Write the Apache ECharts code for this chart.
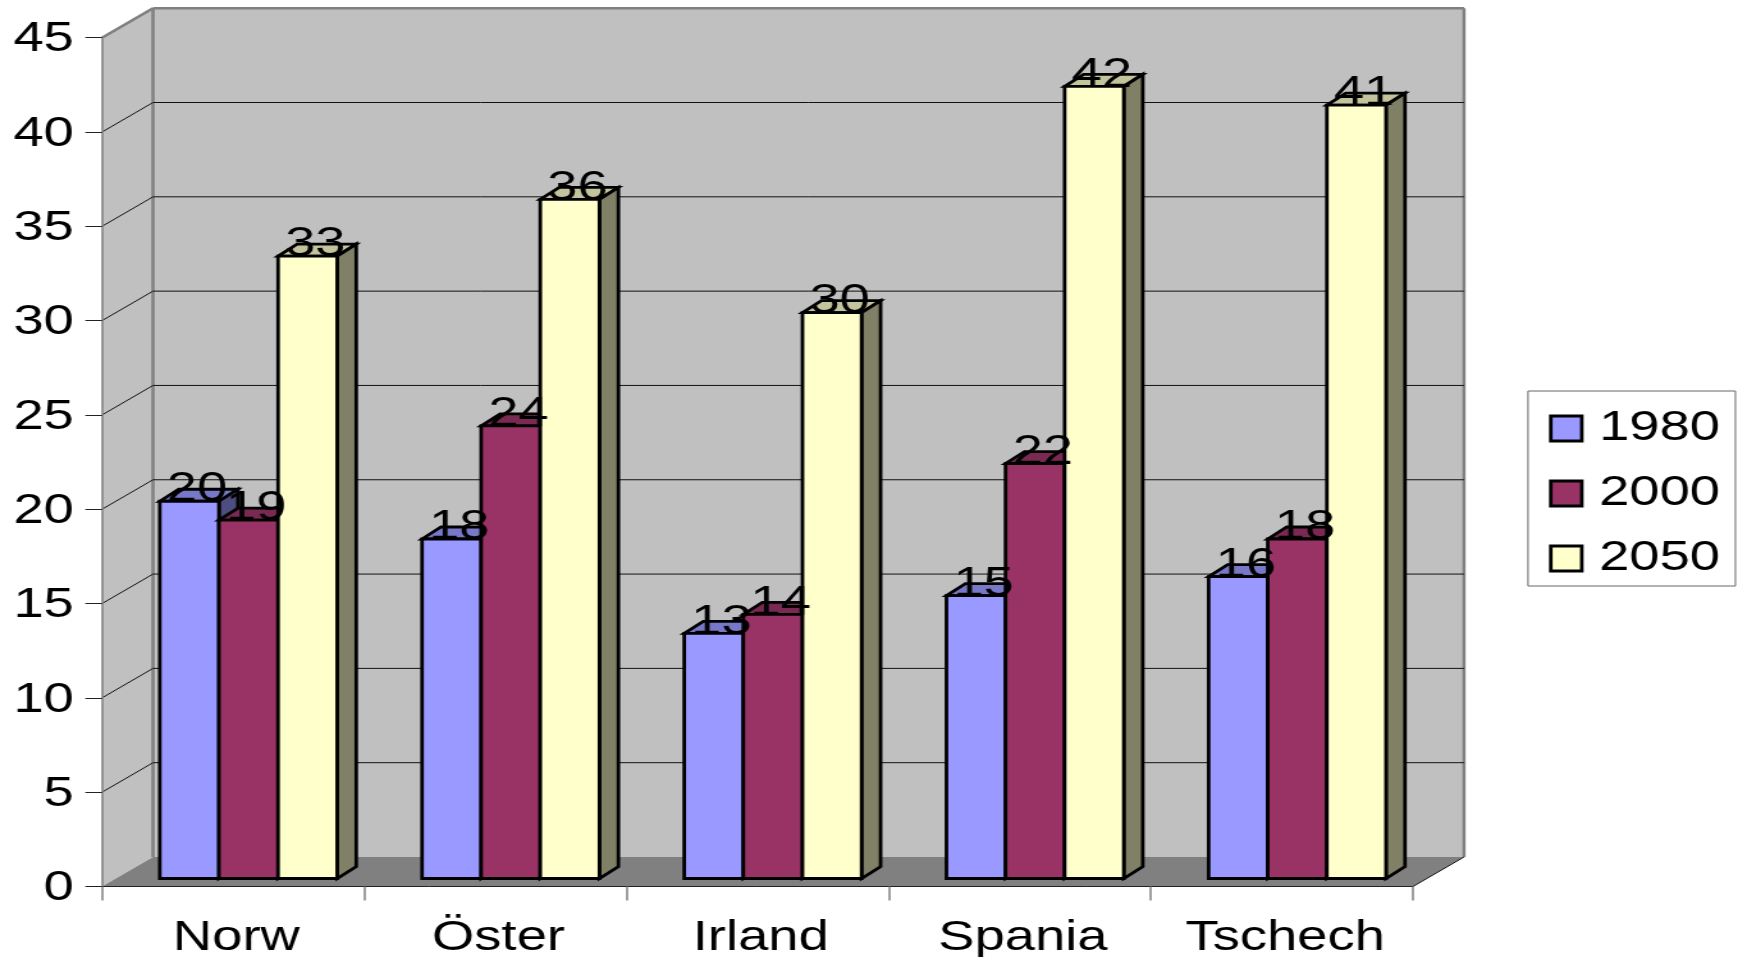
<!DOCTYPE html>
<html>
<head>
<meta charset="utf-8">
<style>
html,body{margin:0;padding:0;background:#fff;overflow:hidden;width:1738px;height:957px}
#chart{width:1358px;height:957px;transform-origin:0 0;transform:scaleX(1.27982)}
</style>
<script src="https://cdn.jsdelivr.net/npm/echarts@6/dist/echarts.min.js"></script>
</head>
<body>
<div id="chart"></div>
<script>
const categories = ['Norw', 'Öster', 'Irland', 'Spania', 'Tschech'];
const series1980 = [20, 18, 13, 15, 16];
const series2000 = [19, 24, 14, 22, 18];
const series2050 = [33, 36, 30, 42, 41];
const gridValues = [5, 10, 15, 20, 25, 30, 35, 40];

const SX = 1358 / 1738;           // horizontal px -> chart px
const FONT = '"Liberation Sans", Arial, sans-serif';
const wallDX = 51 * SX, wallDY = 29.5;
const barShiftX = 0, barShiftY = 8;
const depthDX = 19 * SX, depthDY = 12;
const groupStart = 0.2205, barFrac = 0.2255;

function wallItem(params, api) {
  const cs = params.coordSys;
  const L = cs.x, R = cs.x + cs.width;
  const y0 = api.coord([0, 0])[1], yT = api.coord([0, 45])[1];
  const poly = (pts, fill, stroke, lw) => ({
    type: 'polygon', shape: { points: pts },
    style: { fill: fill, stroke: stroke || null, lineWidth: lw || 0 }
  });
  const line = (a, b, c, lw) => ({
    type: 'line', shape: { x1: a[0], y1: a[1], x2: b[0], y2: b[1] },
    style: { stroke: c, lineWidth: lw, fill: null }
  });
  return {
    type: 'group', children: [
      poly([[L + wallDX, yT - wallDY], [R + wallDX, yT - wallDY], [R + wallDX, y0 - wallDY], [L + wallDX, y0 - wallDY]], '#C0C0C0'),
      poly([[L, y0], [L, yT], [L + wallDX, yT - wallDY], [L + wallDX, y0 - wallDY]], '#C0C0C0'),
      poly([[L, y0], [R, y0], [R + wallDX, y0 - wallDY], [L + wallDX, y0 - wallDY]], '#808080'),
      line([L + wallDX, yT - wallDY], [R + wallDX, yT - wallDY], '#808080', 2.5),
      line([L + wallDX, yT - wallDY], [L + wallDX, y0 - wallDY], '#808080', 2.5),
      line([R + wallDX, yT - wallDY], [R + wallDX, y0 - wallDY], '#808080', 2.5),
      line([L, yT], [L + wallDX, yT - wallDY], '#808080', 2.5),
      line([R, y0], [R + wallDX, y0 - wallDY], '#111', 1)
    ]
  };
}

function gridItem(params, api) {
  const cs = params.coordSys;
  const L = cs.x, R = cs.x + cs.width;
  const y = api.coord([0, api.value(1)])[1];
  const s = { stroke: '#111', lineWidth: 1, fill: null };
  return {
    type: 'group', children: [
      { type: 'line', shape: { x1: L, y1: y, x2: L + wallDX, y2: y - wallDY }, style: s },
      { type: 'line', shape: { x1: L + wallDX, y1: y - wallDY, x2: R + wallDX, y2: y - wallDY }, style: s }
    ]
  };
}

function barRenderer(slot, front, top, side) {
  return function (params, api) {
    const idx = api.value(0), val = api.value(1);
    const c = api.coord([idx, val]), base = api.coord([idx, 0]);
    const band = api.size([1, 0])[0];
    const xL = c[0] - band / 2 + band * (groupStart + barFrac * slot) + barShiftX;
    const xR = xL + band * barFrac;
    const yT = c[1] - barShiftY, yB = base[1] - barShiftY;
    const st = f => ({ fill: f, stroke: '#000', lineWidth: 2.8, lineJoin: 'miter' });
    return {
      type: 'group', children: [
        { type: 'polygon', shape: { points: [[xL, yT], [xR, yT], [xR + depthDX, yT - depthDY], [xL + depthDX, yT - depthDY]] }, style: st(top) },
        { type: 'polygon', shape: { points: [[xR, yT], [xR + depthDX, yT - depthDY], [xR + depthDX, yB - depthDY], [xR, yB]] }, style: st(side) },
        { type: 'rect', shape: { x: xL, y: yT, width: xR - xL, height: yB - yT }, style: st(front) },
        { type: 'text', z2: 100, style: { text: String(val), x: (xL + xR) / 2 + 6, y: yT + 10, align: 'center', verticalAlign: 'bottom', font: '42.5px ' + FONT, fill: '#000' } }
      ]
    };
  };
}

function barSeries(name, slot, values, front, top, side) {
  return {
    name: name, type: 'custom', z: 3, animation: false, silent: true,
    itemStyle: { color: front },
    encode: { x: 0, y: 1 },
    data: values.map((v, i) => [i, v]),
    renderItem: barRenderer(slot, front, top, side)
  };
}

const chart = echarts.init(document.getElementById('chart'), null, { renderer: 'canvas' });
chart.setOption({
  animation: false,
  backgroundColor: '#fff',
  grid: { left: 102 * SX, width: 1311 * SX, top: 37.7, height: 848.8, containLabel: false, outerBoundsMode: 'none' },
  legend: {
    orient: 'vertical', left: 1528 * SX, top: 391,
    padding: [16, 12, 6, 16.4], itemGap: 22,
    backgroundColor: '#fff', borderColor: '#666', borderWidth: 1,
    icon: 'rect', itemWidth: 31 * SX, itemHeight: 25,
    itemStyle: { borderColor: '#000', borderWidth: 2.8 },
    textStyle: { fontFamily: FONT, fontSize: 42.5, color: '#000', padding: [0, 0, 0, 8.5] },
    data: ['1980', '2000', '2050'], selectedMode: false
  },
  xAxis: {
    type: 'category', data: categories, z: 5,
    axisLine: { lineStyle: { color: '#222', width: 1 } },
    axisTick: { show: true, length: 14, lineStyle: { color: '#808080', width: 1.5 } },
    axisLabel: { fontFamily: FONT, fontSize: 42.5, color: '#000', margin: 30, padding: [0, 0, 0, 5], interval: 0 },
    splitLine: { show: false }
  },
  yAxis: {
    type: 'value', min: 0, max: 45, interval: 5, z: 5,
    axisLine: { show: true, lineStyle: { color: '#808080', width: 1.5 } },
    axisTick: { show: true, length: 13, lineStyle: { color: '#222', width: 1 } },
    axisLabel: { fontFamily: FONT, fontSize: 42.5, color: '#000', margin: 22, verticalAlign: 'top', lineHeight: 4 },
    splitLine: { show: false }
  },
  series: [
    { type: 'custom', z: 1, silent: true, animation: false, data: [[0, 0]], encode: { x: 0, y: 1 }, renderItem: wallItem },
    { type: 'custom', z: 2, silent: true, animation: false, data: gridValues.map(v => [0, v]), encode: { x: 0, y: 1 }, renderItem: gridItem },
    barSeries('1980', 0, series1980, '#9999FF', '#7878C8', '#4D4D80'),
    barSeries('2000', 1, series2000, '#993366', '#7A2952', '#4D1A33'),
    barSeries('2050', 2, series2050, '#FFFFCC', '#C4C49C', '#808066')
  ]
});
</script>
</body>
</html>
